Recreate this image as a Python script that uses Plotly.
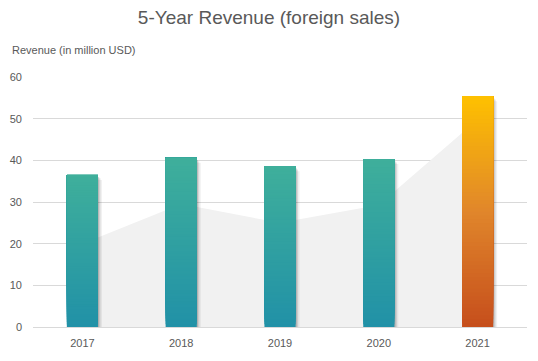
import plotly.graph_objects as go

years = ["2017", "2018", "2019", "2020", "2021"]
revenue = [36.5, 40.6, 38.6, 40.3, 55.4]
trend_area = [20.0, 29.5, 25.0, 29.3, 49.8]
highlight = [False, False, False, False, True]

title_text = "5-Year Revenue (foreign sales)"
y_title = "Revenue (in million USD)"

teal_stops = [(0.0, (0x21, 0x91, 0xA7)), (1.0, (0x3F, 0xAF, 0x9B))]
orange_stops = [(0.0, (0xC6, 0x4E, 0x1C)), (0.5, (0xE0, 0x86, 0x2B)), (1.0, (0xFF, 0xC1, 0x00))]


def grad(stops, t):
    for (t0, c0), (t1, c1) in zip(stops[:-1], stops[1:]):
        if t <= t1:
            f = (t - t0) / (t1 - t0) if t1 > t0 else 0
            c = [round(a + (b - a) * f) for a, b in zip(c0, c1)]
            return "rgb(%d,%d,%d)" % tuple(c)
    return "rgb(%d,%d,%d)" % stops[-1][1]


fig = go.Figure()

# background area (main axis, drawn below the bar subplot)
fig.add_trace(go.Scatter(
    x=years, y=trend_area, fill="tozeroy", mode="none",
    fillcolor="#F1F1F1", hoverinfo="skip", showlegend=False,
    xaxis="x", yaxis="y",
))

W = 0.315
px = 1 / 98.8
# soft shadows
for dx, alpha, cut in [(4 * px, 0.06, 1.2), (2.5 * px, 0.10, 0.8), (1.2 * px, 0.14, 0.5)]:
    fig.add_trace(go.Bar(
        x=years, y=[v - cut for v in revenue], base=0,
        width=W, offset=-W / 2 + dx,
        marker=dict(color="rgba(0,0,0,%.2f)" % alpha, line=dict(width=0)),
        hoverinfo="skip", showlegend=False, xaxis="x", yaxis="y2",
    ))

# gradient: each layer spans from its base to the bar top, later layers cover earlier
N = 60
for k in range(N):
    t = (k + 0.5) / N
    cols = [grad(orange_stops if h else teal_stops, t) for h in highlight]
    fig.add_trace(go.Bar(
        x=years, y=[v * (N - k) / N for v in revenue], base=[v * k / N for v in revenue],
        width=W, offset=-W / 2,
        marker=dict(color=cols, line=dict(width=0)),
        hoverinfo="skip", showlegend=False, xaxis="x", yaxis="y2",
    ))

font_family = "Liberation Sans, Arial, sans-serif"
fig.update_layout(
    width=538, height=361,
    margin=dict(l=33, r=11, t=77, b=34),
    paper_bgcolor="white", plot_bgcolor="white",
    barmode="overlay",
    showlegend=False,
    hovermode=False,
    font=dict(family=font_family, color="#595959", size=11),
    title=dict(text=title_text, x=0.5, xanchor="center", y=0.953, yanchor="middle",
               font=dict(size=19, color="#595959", family=font_family)),
    xaxis=dict(type="category", showgrid=False, showline=False, ticks="",
               tickfont=dict(size=11, color="#595959"), ticklabelstandoff=8),
    yaxis=dict(range=[0, 60], dtick=10, showgrid=True, gridcolor="#D9D9D9", gridwidth=1,
               zeroline=True, zerolinecolor="#D9D9D9", zerolinewidth=1,
               showline=False, ticks="", tickfont=dict(size=11, color="#595959"),
               ticklabelstandoff=10),
    yaxis2=dict(range=[0, 60], overlaying="y", visible=False, showgrid=False, zeroline=False),
    annotations=[dict(text=y_title, x=-23 / 494, y=(361 - 50 - 34) / 250,
                      xref="paper", yref="paper", showarrow=False,
                      xanchor="left", yanchor="middle", font=dict(size=11, color="#595959"))],
)

fig.write_html("out.html", config={"displayModeBar": False, "staticPlot": True},
               post_script="document.body.style.margin='0';document.body.style.padding='0';")
